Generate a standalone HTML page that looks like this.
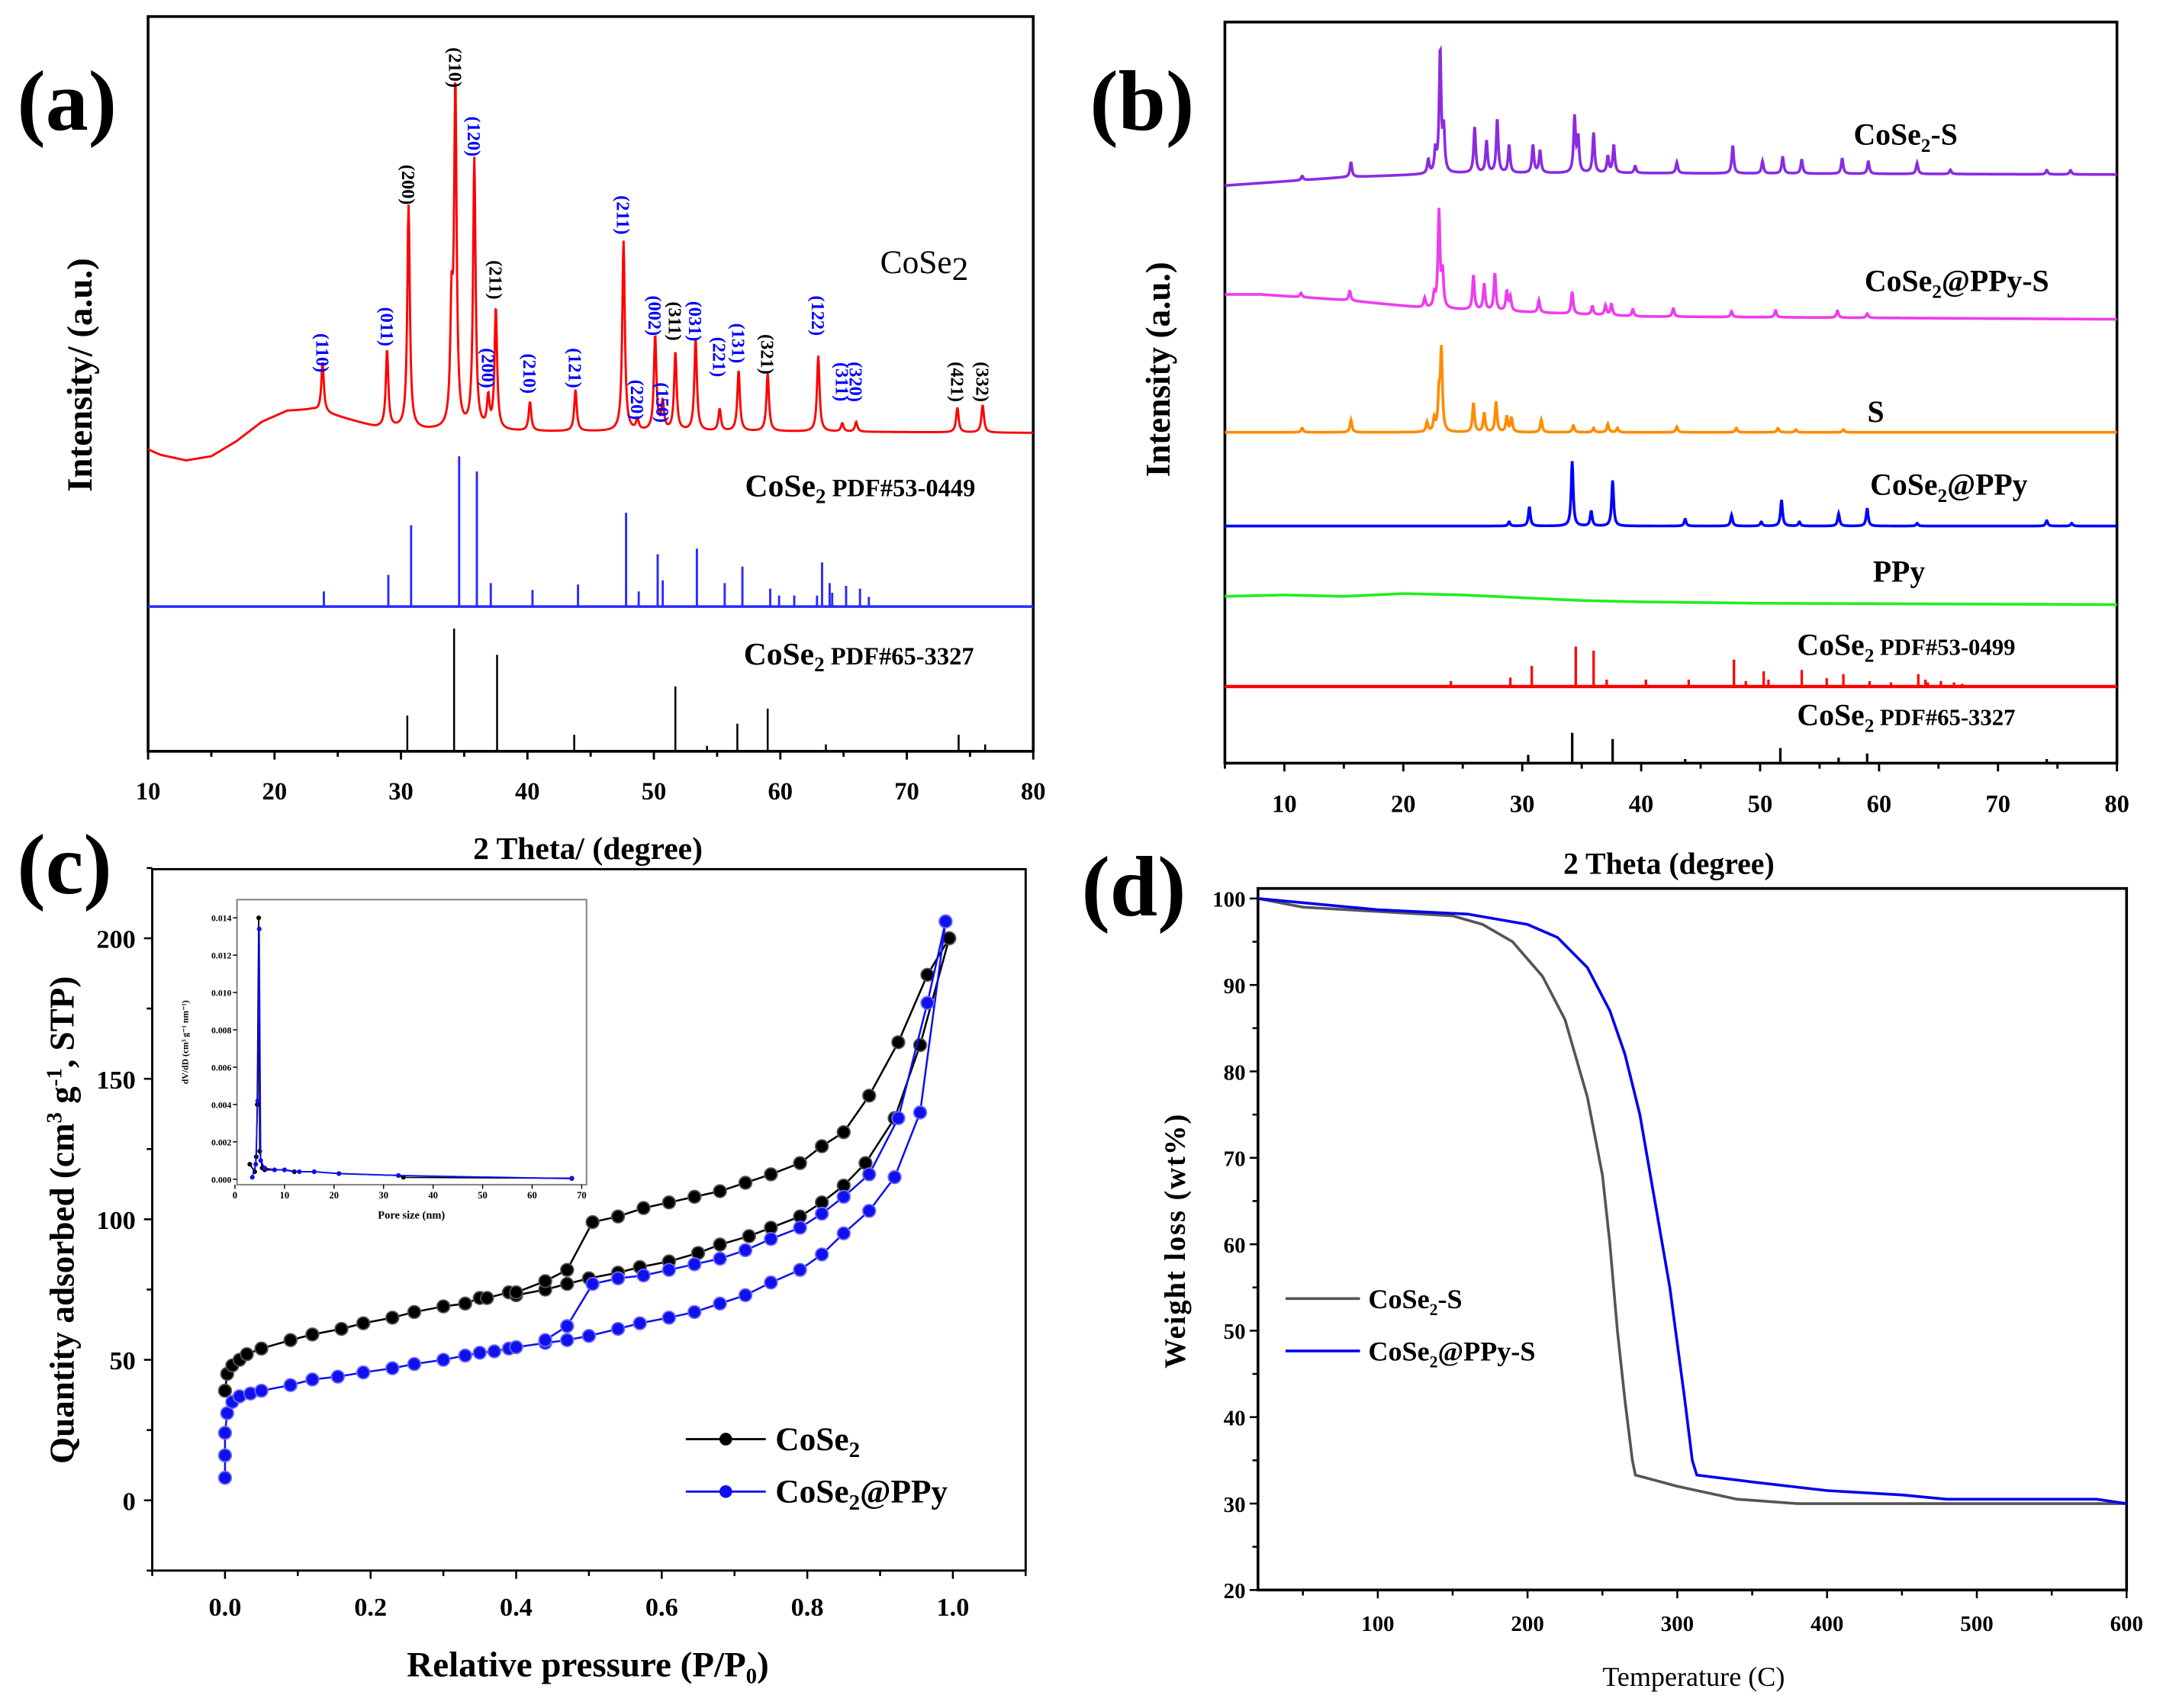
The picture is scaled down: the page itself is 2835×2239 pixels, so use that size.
<!DOCTYPE html>
<html><head><meta charset="utf-8">
<style>
html,body{margin:0;padding:0;background:#fff;}
svg{display:block;}
text{font-family:"Liberation Serif",serif;}
</style></head>
<body>
<svg id="fig" xmlns="http://www.w3.org/2000/svg" width="2835" height="2239" viewBox="0 0 1568 1239">
<rect x="0" y="0" width="1568" height="1239" fill="#fff"/>
</svg>
<script>
// ---------- Panel (a) data ----------
const aRedBaseX=[10,11,13,15,17,19,21,23,25,28,32,40,60,80];
const aRedBaseV=[219,215,211,214,225,239,247,248,243,235,233,232,232,231];
const aRedPeakPos=[23.8,28.9,30.6,34.0,34.3,35.8,36.9,37.5,40.2,43.8,47.6,48.7,50.1,50.7,51.7,53.3,55.2,56.7,59.0,63.0,64.9,66.0,74.0,76.0];
const aRedPeakH=[36,56,162,80,245,196,22,88,21,30,138,8,69,20,57,67,16,44,42,55,6,7,18,20];
const aHklText=["(110)","(011)","(200)","(210)","(120)","(200)","(211)","(210)","(121)","(211)","(220)","(150)","(002)","(311)","(031)","(221)","(131)","(321)","(122)","(311)","(320)","(421)","(332)"];
const aHklX=[23.8,28.9,30.6,34.3,35.8,36.9,37.5,40.2,43.8,47.6,48.7,50.7,50.1,51.7,53.3,55.2,56.7,59.0,63.0,64.9,66.0,74.0,76.0];
const aHklV=[289,308,411,496,446,278,342,274,278,389,255,253,316,312,312,286,296,288,316,268,268,268,268];
const aHklBlue=[1,1,0,0,1,1,0,1,1,1,1,1,1,0,1,1,1,0,1,1,1,0,0];
const aPdf1Pos=[23.9,29.0,30.8,34.6,36.0,37.1,40.4,44.0,47.8,48.8,50.3,50.7,53.4,55.6,57.0,59.2,59.9,61.1,62.9,63.3,63.9,64.1,65.2,66.3,67.0];
const aPdf1H=[11,23,59,109,98,17,12,16,68,11,38,19,42,17,29,13,8,8,8,32,17,10,15,13,7];
const aPdf2Pos=[30.5,34.2,37.6,43.7,51.7,54.2,56.6,59.0,63.6,74.1,76.2];
const aPdf2H=[26,89,70,12,47,4,20,31,5,12,5];
const aTicks=[10,20,30,40,50,60,70,80];
// ---------- Panel (b) data ----------
const bSX=[5,15,25,40,80];
const bS_base=[419,425,428,428,427];
const bS_pos=[11.5,15.6,22.1,22.7,23.1,23.4,26.0,27.0,27.9,28.9,30.9,31.5,34.4,34.7,36.0,37.2,37.7,39.5,43.0,47.7,50.2,51.9,53.5,56.9,59.1,63.2,66.0,74.1,76.1];
const bS_h=[3,11,10,16,89,30,33,23,39,20,20,16,40,25,29,12,20,5,8,20,9,12,10,11,9,8,3,3,3];
const bPX=[5,8,15,22,40,80];
const bP_base=[340,340,336,330,324,322];
const bP_pos=[11.4,15.5,21.8,22.6,23.0,23.3,25.9,26.8,27.7,28.7,29.0,31.4,34.2,35.9,37.0,37.5,39.3,42.7,47.6,51.3,56.5,59.0];
const bP_h=[3,7,7,9,70,25,25,19,27,14,10,9,16,6,7,8,5,6,4,5,5,3];
const bOX=[5,80];
const bO_base=[240,240];
const bO_pos=[11.5,15.6,22.0,22.6,23.0,23.2,25.9,26.8,27.8,28.7,29.1,31.6,34.3,36.0,37.2,38.0,43.0,48.0,51.5,53.0,57.0];
const bO_h=[3,9,7,9,25,58,21,14,22,11,10,9,5,3,6,3,4,3,3,2,2];
const bBX=[5,80];
const bB_base=[172,172];
const bB_pos=[28.9,30.6,34.2,35.8,37.6,43.7,47.6,50.1,51.8,53.3,56.6,59.0,63.2,74.1,76.2];
const bB_h=[3,14,47,11,33,5,8,3,19,3,9,13,2,4,2];
const bGX=[5,10,15,20,25,30,35,40,50,80];
const bG_base=[121,122,121,123,122,120,118,117,116,115];
const bRPos=[24.0,29.0,30.8,34.5,36.0,37.1,40.4,44.0,47.8,48.8,50.3,50.7,53.5,55.6,57.0,59.2,61.0,63.3,63.9,64.1,65.2,66.3,67.0];
const bRH=[4,6.5,15,29,26,5,5,5,19.5,4,11,5,12,6,9,4,3,9,5,3,4,3,2];
const bKPos=[30.5,34.2,37.6,43.7,51.7,56.6,59.0,74.1];
const bKH=[6,22,17.5,3,11,4,7,3];
const bTicks=[10,20,30,40,50,60,70,80];
// ---------- Panel (c) data ----------
const cAdsX=[0,0.003,0.01,0.02,0.03,0.05,0.09,0.12,0.16,0.19,0.23,0.26,0.30,0.33,0.35,0.36,0.39,0.40,0.44,0.47,0.50,0.54,0.57,0.61,0.65,0.68,0.72,0.75,0.79,0.82,0.85,0.88,0.92,0.955,0.995];
const cAdsY=[39,45,48,50,52,54,57,59,61,63,65,67,69,70,72,72,74,73,75,77,79,81,83,85,88,91,94,97,101,106,112,120,136,162,200];
const cDesX=[0.995,0.965,0.925,0.885,0.85,0.82,0.79,0.75,0.715,0.68,0.645,0.61,0.575,0.54,0.505,0.47,0.44,0.40];
const cDesY=[200,187,163,144,131,126,120,116,113,110,108,106,104,101,99,82,78,74];
const pAdsX=[0,0,0,0.003,0.01,0.02,0.035,0.05,0.09,0.12,0.155,0.19,0.23,0.26,0.30,0.33,0.35,0.37,0.39,0.40,0.44,0.47,0.50,0.54,0.57,0.61,0.645,0.68,0.715,0.75,0.79,0.82,0.85,0.885,0.92,0.955,0.99];
const pAdsY=[8,16,24,31,35,37,38,39,41,43,44,45.5,47,48.5,50,51.5,52.5,53,54,54.5,56,57,58.5,61,63,65,67,70,73,77.5,82,87.5,95,103,115,138,206];
const pDesX=[0.99,0.965,0.925,0.885,0.85,0.82,0.79,0.75,0.715,0.68,0.645,0.61,0.575,0.54,0.505,0.47,0.44];
const pDesY=[206,177,136,116,108,102,97,93,89,86,84,82,80,79,77,62,57];
const cXTicks=[0,0.2,0.4,0.6,0.8,1.0];
const cYTicks=[0,50,100,150,200];
const inKX=[3,4,4.3,4.5,4.8,5,5.5,6,8,10,12,16,21,33,34,68];
const inKY=[0.0008,0.0004,0.0012,0.004,0.014,0.0015,0.0006,0.0005,0.0005,0.0005,0.0004,0.0004,0.0003,0.0002,0.0001,0.00005];
const inBX=[3.5,4.2,4.6,4.9,5.2,6,8,10,13,16,21,33,68];
const inBY=[0.0001,0.0008,0.0042,0.0134,0.001,0.0006,0.0005,0.0005,0.0004,0.0004,0.0003,0.0002,0.00003];
const inXTicks=[0,10,20,30,40,50,60,70];
const inYTicks=[0,0.002,0.004,0.006,0.008,0.010,0.012,0.014];
// ---------- Panel (d) data ----------
const dGreyT=[20,50,100,150,170,190,210,225,240,250,255,260,265,270,272,300,340,380,600];
const dGreyW=[100,99,98.5,98,97,95,91,86,77,68,60,50,42,35,33.3,32,30.5,30,30];
const dBlueT=[20,100,160,200,220,240,255,265,275,285,295,305,310,313,350,400,450,480,580,600];
const dBlueW=[100,98.7,98.2,97,95.5,92,87,82,75,65,55,42,35,33.3,32.5,31.5,31,30.5,30.5,30];
const dXTicks=[100,200,300,400,500,600];
const dYTicks=[20,30,40,50,60,70,80,90,100];

const svg=document.getElementById('fig');
const NS='http://www.w3.org/2000/svg';
function mk(tag,attrs,parent){const e=document.createElementNS(NS,tag);for(const k in attrs)e.setAttribute(k,attrs[k]);(parent||svg).appendChild(e);return e;}
function lin(d0,d1,r0,r1){return v=>r0+(v-d0)*(r1-r0)/(d1-d0);}
function interp(xs,vs,x){if(x<=xs[0])return vs[0];for(let i=1;i<xs.length;i++){if(x<=xs[i]){const t=(x-xs[i-1])/(xs[i]-xs[i-1]);return vs[i-1]+t*(vs[i]-vs[i-1]);}}return vs[vs.length-1];}
function spectrum(bx,bv,pos,h,x0,x1,w){const pts=[];for(let x=x0;x<=x1+1e-9;x+=0.04){let v=interp(bx,bv,x);for(let i=0;i<pos.length;i++){const d=(x-pos[i])/w;v+=h[i]/(1+d*d);}pts.push([x,v]);}return pts;}
function pathOf(pts,sx,sy){return pts.map((p,i)=>(i?'L':'M')+sx(p[0]).toFixed(2)+' '+sy(p[1]).toFixed(2)).join(' ');}
function txt(s,x,y,size,opts,parent){const t=mk('text',Object.assign({x:x,y:y,'font-size':size},opts||{}),parent);t.textContent=s;return t;}

// ================= Panel (a) =================
(function(){
const g=mk('g',{});


const L=107,R=749,T=12,B=545;
const sx=lin(10,80,L,R), sy=lin(0,533,B,T);
const fr=mk('rect',{x:L,y:T,width:R-L,height:B-T,fill:'none',stroke:'#000','stroke-width':2},g);


const red=spectrum(aRedBaseX,aRedBaseV,aRedPeakPos,aRedPeakH,10,80,0.12);
const rp=mk('path',{d:pathOf(red,sx,sy),fill:'none',stroke:'#ff0000','stroke-width':1.6},g);


const bl=mk('line',{x1:L,x2:R,y1:sy(105),y2:sy(105),stroke:'#2a2aff','stroke-width':2},g);


aPdf1Pos.forEach((p,i)=>{const l=mk('line',{x1:sx(p),x2:sx(p),y1:sy(105),y2:sy(105+aPdf1H[i]),stroke:'#2a2aff','stroke-width':1.6},g);

});
aPdf2Pos.forEach((p,i)=>{const l=mk('line',{x1:sx(p),x2:sx(p),y1:sy(0),y2:sy(aPdf2H[i]),stroke:'#000','stroke-width':1.4},g);

});
aHklText.forEach((s,i)=>{const x=sx(aHklX[i]),y=sy(aHklV[i]);const t=txt(s,x,y,13.5,{'font-weight':'bold',fill:aHklBlue[i]?'#0000ff':'#000','text-anchor':'middle',transform:`rotate(90 ${x} ${y})`,dy:'0.35em'},g);

});
for(let v=10;v<=80;v+=5){const major=v%10===0;const l=mk('line',{x1:sx(v),x2:sx(v),y1:B,y2:B+(major?6:4),stroke:'#000','stroke-width':1.6},g);

}
aTicks.forEach(v=>{const t=txt(String(v),sx(v),580,18,{'font-weight':'bold','text-anchor':'middle'},g);

});
let t=txt('2 Theta/ (degree)',426,623,23,{'font-weight':'bold','text-anchor':'middle'},g);


t=txt('Intensity/ (a.u.)',0,0,26,{'font-weight':'bold','text-anchor':'middle',transform:'translate(66 272) rotate(-90)'},g);


t=txt('(a)',12,94,62,{'font-weight':'bold'},g);


t=mk('text',{x:638,y:198,'font-size':24},g);t.innerHTML='CoSe<tspan font-size="24" dy="5">2</tspan>';


t=mk('text',{x:540,y:360,'font-size':23,'font-weight':'bold'},g);t.innerHTML='CoSe<tspan font-size="15" dy="5">2</tspan><tspan font-size="18" dy="-5"> PDF#53-0449</tspan>';


t=mk('text',{x:539,y:482,'font-size':23,'font-weight':'bold'},g);t.innerHTML='CoSe<tspan font-size="15" dy="5">2</tspan><tspan font-size="18" dy="-5"> PDF#65-3327</tspan>';


})();

// ================= Panel (b) =================
(function(){
const g=mk('g',{});


const L=888,R=1535,T=16,B=553.6;
const sx=lin(5,80,L,R), sy=lin(0,537.6,B,T);
const fr=mk('rect',{x:L,y:T,width:R-L,height:B-T,fill:'none',stroke:'#000','stroke-width':2},g);


const series=[[bSX,bS_base,bS_pos,bS_h,'#8a2be2','cose2-s-line'],[bPX,bP_base,bP_pos,bP_h,'#ee3cee','cose2-ppy-s-line'],[bOX,bO_base,bO_pos,bO_h,'#ff8c00','s-line'],[bBX,bB_base,bB_pos,bB_h,'#0000ff','cose2-ppy-line'],[bGX,bG_base,[],[],'#22ee22','ppy-line']];
series.forEach(s=>{const pts=spectrum(s[0],s[1],s[2],s[3],5,80,0.1);const p=mk('path',{d:pathOf(pts,sx,sy),fill:'none',stroke:s[4],'stroke-width':2},g);

});
const rb=mk('line',{x1:L,x2:R,y1:sy(55.6),y2:sy(55.6),stroke:'#ff0000','stroke-width':2.4},g);


bRPos.forEach((p,i)=>{const l=mk('line',{x1:sx(p),x2:sx(p),y1:sy(55.6),y2:sy(55.6+bRH[i]),stroke:'#ff0000','stroke-width':1.8},g);

});
bKPos.forEach((p,i)=>{const l=mk('line',{x1:sx(p),x2:sx(p),y1:sy(0),y2:sy(bKH[i]),stroke:'#000','stroke-width':1.8},g);

});
for(let v=5;v<=80;v+=5){const major=v%10===0;const l=mk('line',{x1:sx(v),x2:sx(v),y1:B,y2:B+(major?6:4),stroke:'#000','stroke-width':1.6},g);

}
bTicks.forEach(v=>{const t=txt(String(v),sx(v),589,18,{'font-weight':'bold','text-anchor':'middle'},g);

});
let t=txt('2 Theta (degree)',1210,634,22,{'font-weight':'bold','text-anchor':'middle'},g);


t=txt('Intensity (a.u.)',0,0,25,{'font-weight':'bold','text-anchor':'middle',transform:'translate(848 268) rotate(-90)'},g);


t=txt('(b)',790,94,62,{'font-weight':'bold'},g);


const labs=[['CoSe<tspan font-size="14" dy="5">2</tspan><tspan dy="-5">-S</tspan>',1344,105,'label-cose2-s'],['CoSe<tspan font-size="14" dy="5">2</tspan><tspan dy="-5">@PPy-S</tspan>',1352,211,'label-cose2-ppy-s'],['S',1354,306,'label-s'],['CoSe<tspan font-size="14" dy="5">2</tspan><tspan dy="-5">@PPy</tspan>',1356,359,'label-cose2-ppy'],['PPy',1358,422,'label-ppy'],['CoSe<tspan font-size="14" dy="5">2</tspan><tspan font-size="17" dy="-5"> PDF#53-0499</tspan>',1303,475,'label-pdf-53-0499'],['CoSe<tspan font-size="14" dy="5">2</tspan><tspan font-size="17" dy="-5"> PDF#65-3327</tspan>',1303,526,'label-pdf-65-3327']];
labs.forEach(l=>{const e=mk('text',{x:l[1],y:l[2],'font-size':22,'font-weight':'bold'},g);e.innerHTML=l[0];

});
})();

// ================= Panel (c) =================
(function(){
const g=mk('g',{});


const L=110,R=743.5,T=630.5,B=1139.3;
const sx=lin(-0.1,1.1,L,R), sy=lin(-25,224.6,B,T);
const fr=mk('rect',{x:L,y:T,width:R-L,height:B-T,fill:'none',stroke:'#000','stroke-width':1.6},g);


for(let i=-1;i<=11;i++){const v=i/10;const major=i>=0&&i%2===0&&i<=10;const l=mk('line',{x1:sx(v),x2:sx(v),y1:B,y2:B+(major?6:4),stroke:'#000','stroke-width':1.4},g);

}
for(let v=-25;v<=225;v+=25){const major=v%50===0;const l=mk('line',{x1:L,x2:L-(major?6:4),y1:sy(v),y2:sy(v),stroke:'#000','stroke-width':1.4},g);

}
cXTicks.forEach(v=>{const t=txt(v.toFixed(1),sx(v),1172,19,{'font-weight':'bold','text-anchor':'middle'},g);

});
cYTicks.forEach(v=>{const t=txt(String(v),98,sy(v)+7,19,{'font-weight':'bold','text-anchor':'end'},g);

});
function series(xs,ys,color,name){const p=mk('path',{d:xs.map((x,i)=>(i?'L':'M')+sx(x)+' '+sy(ys[i])).join(' '),fill:'none',stroke:color,'stroke-width':1.4},g);


xs.forEach((x,i)=>{const c=mk('circle',{cx:sx(x),cy:sy(ys[i]),r:4.6,fill:color,stroke:color==='#000'?'#555':'#6a6aff','stroke-width':1},g);

});}
series(cAdsX,cAdsY,'#000','cose2-adsorption');
series(cDesX,cDesY,'#000','cose2-desorption');
series(pAdsX,pAdsY,'#1010ee','cose2-ppy-adsorption');
series(pDesX,pDesY,'#1010ee','cose2-ppy-desorption');
[['#000','CoSe','',1044,'legend-cose2'],['#1010ee','CoSe','@PPy',1082,'legend-cose2-ppy']].forEach(e=>{const l=mk('line',{x1:497,x2:555,y1:e[3],y2:e[3],stroke:e[0],'stroke-width':1.6},g);


const c=mk('circle',{cx:526,cy:e[3],r:4.6,fill:e[0]},g);


const t=mk('text',{x:562,y:e[3]+8,'font-size':24,'font-weight':'bold'},g);t.innerHTML=e[1]+'<tspan font-size="16" dy="5">2</tspan><tspan dy="-5">'+e[2]+'</tspan>';

});
let t=mk('text',{x:426,y:1216,'font-size':26,'font-weight':'bold','text-anchor':'middle'},g);t.innerHTML='Relative pressure (P/P<tspan font-size="16" dy="5">0</tspan><tspan dy="-5">)</tspan>';


t=mk('text',{'font-size':25,'font-weight':'bold','text-anchor':'middle',transform:'translate(53 885) rotate(-90)'},g);t.innerHTML='Quantity adsorbed (cm<tspan font-size="16" dy="-9">3</tspan><tspan dy="9"> g</tspan><tspan font-size="16" dy="-9">-1</tspan><tspan dy="9">, STP)</tspan>';


t=txt('(c)',12,648,62,{'font-weight':'bold'},g);


const iL=171.5,iR=425,iT=652.6,iB=859.4;
const ix=lin(0,70,170,421.5), iy=lin(0,0.014,855.4,665.8);
const ifr=mk('rect',{x:iL,y:iT,width:iR-iL,height:iB-iT,fill:'#fff',stroke:'#888','stroke-width':1.2},g);


inXTicks.forEach(v=>{const l=mk('line',{x1:ix(v),x2:ix(v),y1:iB,y2:iB+3,stroke:'#000','stroke-width':0.8},g);


const tt=txt(String(v),ix(v),iB+10,7,{'font-weight':'bold','text-anchor':'middle'},g);

});
inYTicks.forEach(v=>{const l=mk('line',{x1:iL,x2:iL-3,y1:iy(v),y2:iy(v),stroke:'#000','stroke-width':0.8},g);


const tt=txt(v.toFixed(3),iL-4,iy(v)+2.5,6.5,{'font-weight':'bold','text-anchor':'end'},g);

});
[[inKX,inKY,'#000','inset-cose2'],[inBX,inBY,'#1010ee','inset-cose2-ppy']].forEach(s=>{const p=mk('path',{d:s[0].map((x,i)=>(i?'L':'M')+ix(x)+' '+iy(s[1][i])).join(' '),fill:'none',stroke:s[2],'stroke-width':1},g);


s[0].forEach((x,i)=>{const c=mk('circle',{cx:ix(x),cy:iy(s[1][i]),r:1.7,fill:s[2]},g);

});});
t=txt('Pore size (nm)',298,884,8,{'font-weight':'bold','text-anchor':'middle'},g);


t=txt('dV/dD (cm³ g⁻¹ nm⁻¹)',0,0,6.5,{'font-weight':'bold','text-anchor':'middle',transform:'translate(136 756) rotate(-90)'},g);


})();

// ================= Panel (d) =================
(function(){
const g=mk('g',{});


const L=912,R=1542,T=644.5,B=1153.4;
const sx=lin(20,600,L,R), sy=lin(20,100,B,651.8);
const fr=mk('rect',{x:L,y:T,width:R-L,height:B-T,fill:'none',stroke:'#000','stroke-width':2},g);


for(let v=50;v<=600;v+=50){const major=v%100===0;const l=mk('line',{x1:sx(v),x2:sx(v),y1:B,y2:B+(major?6:4),stroke:'#000','stroke-width':1.4},g);

}
for(let v=20;v<=100;v+=5){const major=v%10===0;const l=mk('line',{x1:L,x2:L-(major?6:4),y1:sy(v),y2:sy(v),stroke:'#000','stroke-width':1.4},g);

}
dXTicks.forEach(v=>{const t=txt(String(v),sx(v),1183,16,{'font-weight':'bold','text-anchor':'middle'},g);

});
dYTicks.forEach(v=>{const t=txt(String(v),903,sy(v)+6,16,{'font-weight':'bold','text-anchor':'end'},g);

});
[[dGreyT,dGreyW,'#555','cose2-s-tga-line'],[dBlueT,dBlueW,'#0000ee','cose2-ppy-s-tga-line']].forEach(s=>{const p=mk('path',{d:s[0].map((x,i)=>(i?'L':'M')+sx(x)+' '+sy(s[1][i])).join(' '),fill:'none',stroke:s[2],'stroke-width':2},g);

});
[['#555','-S',942,'legend-cose2-s'],['#0000ee','@PPy-S',980,'legend-cose2-ppy-s']].forEach(e=>{const l=mk('line',{x1:932,x2:986,y1:e[2],y2:e[2],stroke:e[0],'stroke-width':2},g);


const t=mk('text',{x:992,y:e[2]+7,'font-size':20,'font-weight':'bold'},g);t.innerHTML='CoSe<tspan font-size="12" dy="5">2</tspan><tspan dy="-5">'+e[1]+'</tspan>';

});
let t=txt('Temperature (C)',1228,1223,20,{'text-anchor':'middle'},g);


t=txt('Weight loss (wt%)',0,0,21.5,{'font-weight':'bold','text-anchor':'middle','letter-spacing':'1',transform:'translate(859 900) rotate(-90)'},g);


t=txt('(d)',784,664,62,{'font-weight':'bold'},g);


})();
</script>
</body></html>
